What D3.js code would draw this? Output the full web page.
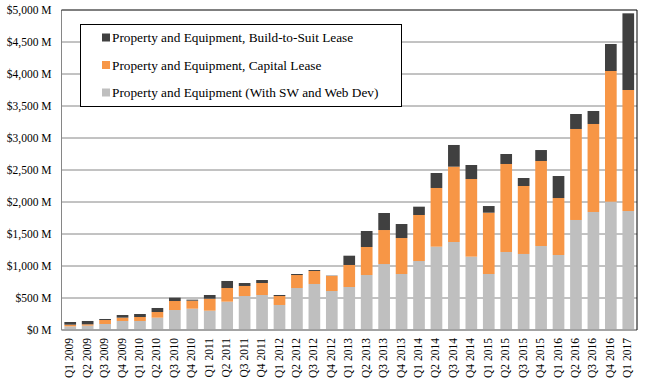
<!DOCTYPE html>
<html><head><meta charset="utf-8">
<script src="https://cdn.jsdelivr.net/npm/d3@7"></script>
<style>body{margin:0;background:#fff}svg{display:block}text{font-family:"Liberation Serif","Times New Roman",serif;fill:#000}</style>
</head><body><svg id="c" width="650" height="389"></svg>
<script>
const quarters = ["Q1 2009","Q2 2009","Q3 2009","Q4 2009","Q1 2010","Q2 2010","Q3 2010","Q4 2010","Q1 2011","Q2 2011","Q3 2011","Q4 2011","Q1 2012","Q2 2012","Q3 2012","Q4 2012","Q1 2013","Q2 2013","Q3 2013","Q4 2013","Q1 2014","Q2 2014","Q3 2014","Q4 2014","Q1 2015","Q2 2015","Q3 2015","Q4 2015","Q1 2016","Q2 2016","Q3 2016","Q4 2016","Q1 2017"];
const propertyEquipment = [57,68,94,141,141,193,312,333,302,443,531,547,391,656,719,609,672,859,1031,875,1078,1302,1375,1146,875,1219,1188,1312,1172,1719,1844,2005,1859];
const capitalLease = [26,21,62,52,62,88,141,125,187,213,157,187,140,203,203,235,344,438,531,562,719,917,1177,1213,958,1375,1062,1329,890,1422,1375,2042,1891];
const buildToSuit = [42,52,16,41,47,63,52,16,58,110,46,47,16,16,15,5,145,250,266,219,130,234,339,219,104,156,125,171,344,234,203,422,1198];
const seriesNames = ["Property and Equipment (With SW and Web Dev)","Property and Equipment, Capital Lease","Property and Equipment, Build-to-Suit Lease"];
const yTicks = [0,500,1000,1500,2000,2500,3000,3500,4000,4500,5000];

const colors = ["#BFBFBF","#F79646","#404040"];
const grid = "#868686";
const svg = d3.select("#c");
const L=61.5, R=637, T=10, B=330;
const x = d3.scaleBand().domain(quarters).range([L,R]).paddingInner(0.33).paddingOuter(0.165);
const y = d3.scaleLinear().domain([0,5000]).range([B,T]);

// gridlines
svg.append("g").selectAll("line").data(yTicks.slice(0,-1)).join("line")
  .attr("x1",L).attr("x2",R).attr("y1",d=>y(d)).attr("y2",d=>y(d))
  .attr("stroke",grid).attr("stroke-width",1);

const rows = quarters.map((q,i)=>({q, s0:propertyEquipment[i], s1:capitalLease[i], s2:buildToSuit[i]}));
const stack = d3.stack().keys(["s0","s1","s2"])(rows);
svg.append("g").selectAll("g").data(stack).join("g").attr("fill",(d,i)=>colors[i])
  .selectAll("rect").data(d=>d).join("rect")
  .attr("x",d=>x(d.data.q)).attr("width",x.bandwidth())
  .attr("y",d=>y(d[1])).attr("height",d=>y(d[0])-y(d[1]));

// frame: left & bottom gray, top & right black
svg.append("line").attr("x1",L).attr("x2",L).attr("y1",T).attr("y2",B).attr("stroke",grid);
svg.append("line").attr("x1",L).attr("x2",R).attr("y1",B).attr("y2",B).attr("stroke",grid);
svg.append("line").attr("x1",L).attr("x2",R).attr("y1",T).attr("y2",T).attr("stroke","#000");
svg.append("line").attr("x1",R).attr("x2",R).attr("y1",T).attr("y2",B).attr("stroke","#000");

// y axis
const yAxis = d3.axisLeft(y).tickValues(yTicks).tickSize(0).tickPadding(10)
  .tickFormat(d=>"$"+d3.format(",")(d)+" M");
const ga = svg.append("g").attr("transform",`translate(${L},0)`).call(yAxis);
ga.select(".domain").remove();
ga.selectAll("text").attr("font-size","11.5px").attr("fill","#000");

// x axis
const xAxis = d3.axisBottom(x).tickSize(0).tickPadding(0);
const gx = svg.append("g").attr("transform",`translate(0,${B})`).call(xAxis);
gx.select(".domain").remove();
gx.selectAll("text").attr("font-size","11.5px").attr("fill","#000")
  .attr("text-anchor","end").attr("transform","rotate(-90)").attr("x",-8).attr("y",-1).attr("dy","0.35em");

// legend
const lg = svg.append("g");
lg.append("rect").attr("x",80.5).attr("y",24.5).attr("width",321).attr("height",82)
  .attr("fill","#fff").attr("stroke","#000").attr("stroke-width",1);
const legendOrder = [2,1,0];
legendOrder.forEach((k,j)=>{
  const cy = 37.5 + j*27.5;
  lg.append("rect").attr("x",102).attr("y",cy-4).attr("width",8).attr("height",8).attr("fill",colors[k]);
  lg.append("text").attr("x",112).attr("y",cy).attr("dy","0.35em").attr("font-size","13.3px").text(seriesNames[k]);
});
</script></body></html>
